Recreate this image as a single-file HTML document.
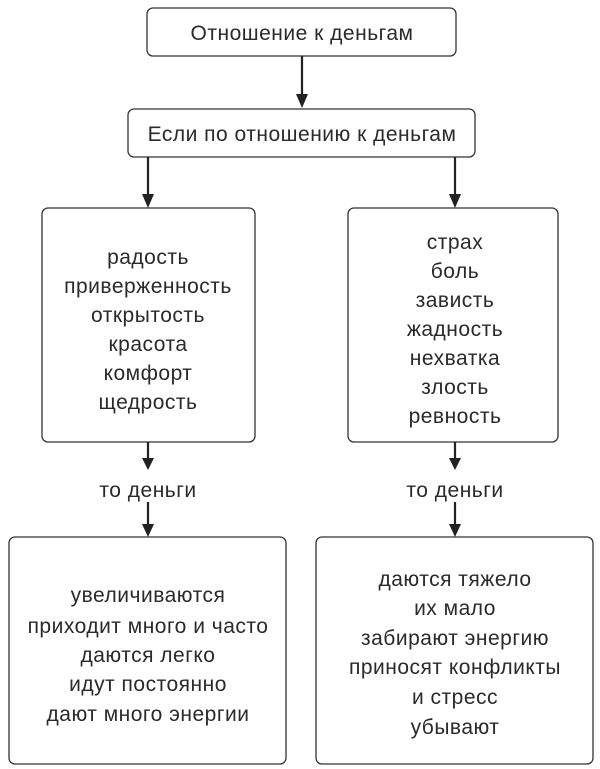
<!DOCTYPE html>
<html><head><meta charset="utf-8"><style>
html,body{margin:0;padding:0;background:#fff;}
svg{display:block;}
text{font-family:"Liberation Sans",sans-serif;font-size:21px;letter-spacing:0.5px;fill:#2a2a2a;text-anchor:middle;}
rect{fill:#fff;stroke:#333;stroke-width:1.3;}
line{stroke:#222;stroke-width:2.2;}
polygon{fill:#222;}
</style></head><body>
<svg width="600" height="769" viewBox="0 0 600 769">
<rect x="147" y="8" width="309" height="48" rx="6"/>
<text x="302" y="40">Отношение к деньгам</text>
<line x1="302" y1="56" x2="302" y2="96"/><polygon points="296,94 308,94 302,108"/>
<rect x="128" y="109" width="347" height="48" rx="6"/>
<text x="302" y="141">Если по отношению к деньгам</text>
<line x1="148" y1="157" x2="148" y2="196"/><polygon points="142,194 154,194 148,208"/>
<line x1="455" y1="157" x2="455" y2="196"/><polygon points="449,194 461,194 455,208"/>
<rect x="42" y="208" width="213" height="234" rx="6"/>
<text x="148" y="264">радость</text>
<text x="148" y="293">приверженность</text>
<text x="148" y="322">открытость</text>
<text x="148" y="351">красота</text>
<text x="148" y="380">комфорт</text>
<text x="148" y="409">щедрость</text>
<rect x="348" y="208" width="210" height="234" rx="6"/>
<text x="455" y="249">страх</text>
<text x="455" y="278">боль</text>
<text x="455" y="307">зависть</text>
<text x="455" y="336">жадность</text>
<text x="455" y="365">нехватка</text>
<text x="455" y="394">злость</text>
<text x="455" y="423">ревность</text>
<line x1="148" y1="442" x2="148" y2="460"/><polygon points="142,458 154,458 148,470"/>
<text x="148" y="497">то деньги</text>
<line x1="148" y1="502" x2="148" y2="526"/><polygon points="142,524 154,524 148,537"/>
<line x1="455" y1="442" x2="455" y2="460"/><polygon points="449,458 461,458 455,470"/>
<text x="455" y="497">то деньги</text>
<line x1="455" y1="502" x2="455" y2="526"/><polygon points="449,524 461,524 455,537"/>
<rect x="9" y="537" width="277" height="227" rx="6"/>
<text x="148" y="602">увеличиваются</text>
<text x="148" y="633">приходит много и часто</text>
<text x="148" y="662">даются легко</text>
<text x="148" y="691">идут постоянно</text>
<text x="148" y="721">дают много энергии</text>
<rect x="316" y="537" width="277" height="227" rx="6"/>
<text x="455" y="586">даются тяжело</text>
<text x="455" y="615">их мало</text>
<text x="455" y="645">забирают энергию</text>
<text x="455" y="674">приносят конфликты</text>
<text x="455" y="704">и стресс</text>
<text x="455" y="734">убывают</text>
</svg>
</body></html>
